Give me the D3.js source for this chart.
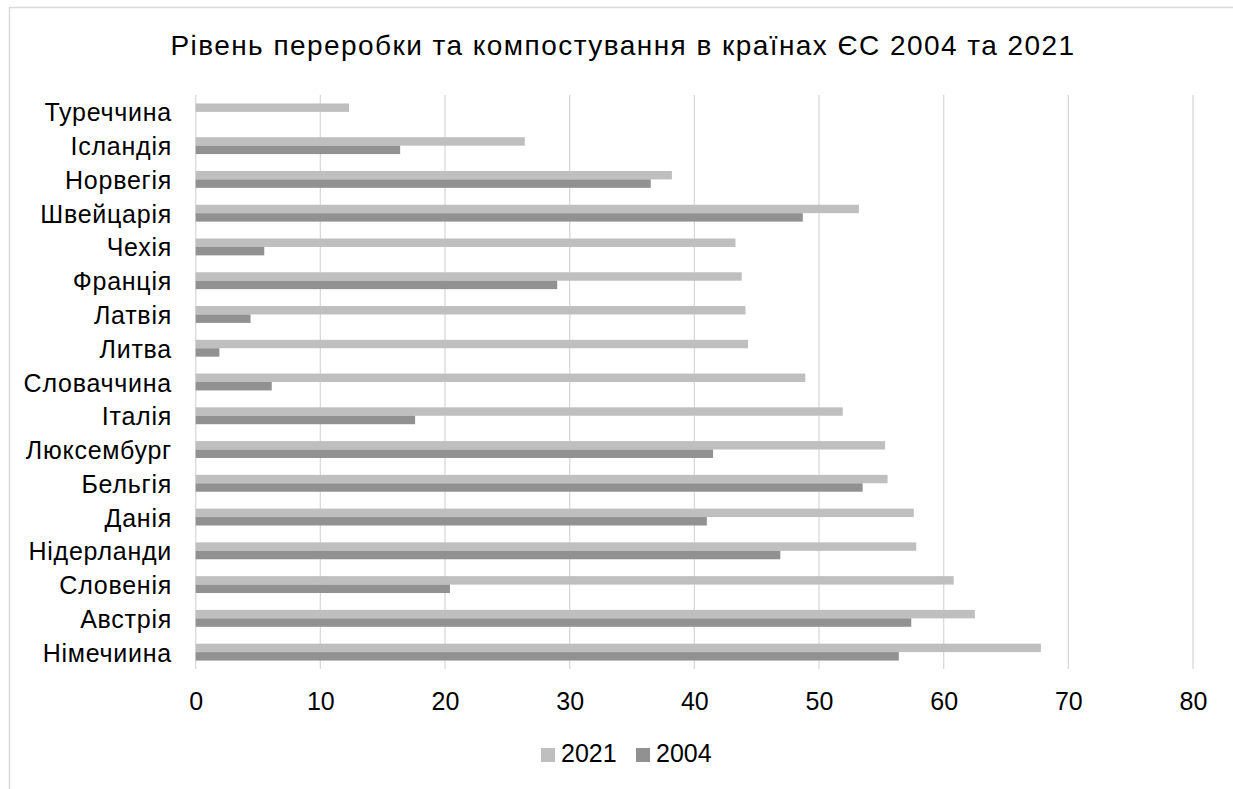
<!DOCTYPE html>
<html>
<head>
<meta charset="utf-8">
<script src="https://cdn.jsdelivr.net/npm/d3@7"></script>
<style>
  html, body { margin: 0; padding: 0; background: #fff; }
  svg { display: block; font-family: "Liberation Sans", Arial, sans-serif; }
</style>
</head>
<body>
<svg id="chart" width="1233" height="789"></svg>
<script>
// Countries, listed top to bottom
const countries = [
  "Туреччина", "Ісландія", "Норвегія", "Швейцарія", "Чехія", "Франція",
  "Латвія", "Литва", "Словаччина", "Італія", "Люксембург", "Бельгія",
  "Данія", "Нідерланди", "Словенія", "Австрія", "Німечиина"
];
// Recycling and composting rate, %
const values2021 = [12.3, 26.4, 38.2, 53.2, 43.3, 43.8, 44.1, 44.3, 48.9, 51.9, 55.3, 55.5, 57.6, 57.8, 60.8, 62.5, 67.8];
const values2004 = [null, 16.4, 36.5, 48.7, 5.5, 29.0, 4.4, 1.9, 6.1, 17.6, 41.5, 53.5, 41.0, 46.9, 20.4, 57.4, 56.4];
const seriesNames = ["2021", "2004"];
const seriesColors = ["#bfbfbf", "#919191"];
const xTicks = [0, 10, 20, 30, 40, 50, 60, 70, 80];
const title = "Рівень переробки та компостування в країнах ЄС 2004 та 2021";

const svg = d3.select("#chart");
const plot = { left: 195.7, right: 1193, top: 95, bottom: 669 };

// outer chart frame
svg.append("rect")
  .attr("x", 9.5).attr("y", 7.5)
  .attr("width", 1300).attr("height", 900)
  .attr("fill", "#fff").attr("stroke", "#d9d9d9").attr("stroke-width", 1.5);

const x = d3.scaleLinear().domain([0, 80]).range([plot.left, plot.right]);
const y = d3.scaleBand().domain(countries).range([plot.top, plot.bottom])
  .paddingInner(0.5).paddingOuter(0.25);
const ySub = d3.scaleBand().domain(seriesNames).range([0, y.bandwidth()]);

// vertical gridlines
svg.append("g").selectAll("line").data(xTicks).join("line")
  .attr("x1", d => x(d)).attr("x2", d => x(d))
  .attr("y1", plot.top).attr("y2", plot.bottom)
  .attr("stroke", "#d9d9d9").attr("stroke-width", 1.3);

// bars
const rows = countries.map((c, i) => ({ c, vals: [values2021[i], values2004[i]] }));
const groups = svg.append("g").selectAll("g").data(rows).join("g")
  .attr("transform", d => `translate(0,${y(d.c)})`);
groups.selectAll("rect")
  .data(d => d.vals.map((v, k) => ({ v, k })).filter(e => e.v != null))
  .join("rect")
  .attr("x", x(0))
  .attr("y", e => ySub(seriesNames[e.k]))
  .attr("width", e => x(e.v) - x(0))
  .attr("height", ySub.bandwidth())
  .attr("fill", e => seriesColors[e.k]);

// category labels
svg.append("g").selectAll("text").data(countries).join("text")
  .attr("x", 172)
  .attr("y", d => y(d) + y.bandwidth() / 2 + 9.5)
  .attr("text-anchor", "end")
  .attr("font-size", 25)
  .attr("letter-spacing", 0.75)
  .attr("fill", "#000")
  .text(d => d);

// x axis labels
const xAxis = d3.axisBottom(x).tickValues(xTicks).tickSize(0).tickPadding(0);
const gx = svg.append("g").attr("transform", `translate(0,${plot.bottom})`).call(xAxis);
gx.select(".domain").remove();
gx.selectAll("text")
  .attr("y", 41).attr("dy", null)
  .attr("font-size", 25)
  .attr("font-family", "Liberation Sans, Arial, sans-serif")
  .attr("fill", "#000");

// title
svg.append("text")
  .attr("x", 623).attr("y", 55)
  .attr("text-anchor", "middle")
  .attr("font-size", 28)
  .attr("letter-spacing", 1.45)
  .attr("fill", "#000")
  .text(title);

// legend
const legend = svg.append("g");
const legendX = [541, 636];
seriesNames.forEach((s, k) => {
  legend.append("rect")
    .attr("x", legendX[k]).attr("y", 748)
    .attr("width", 14).attr("height", 14)
    .attr("fill", seriesColors[k]);
  legend.append("text")
    .attr("x", legendX[k] + 20).attr("y", 762)
    .attr("font-size", 25)
    .attr("fill", "#000")
    .text(s);
});
</script>
</body>
</html>
